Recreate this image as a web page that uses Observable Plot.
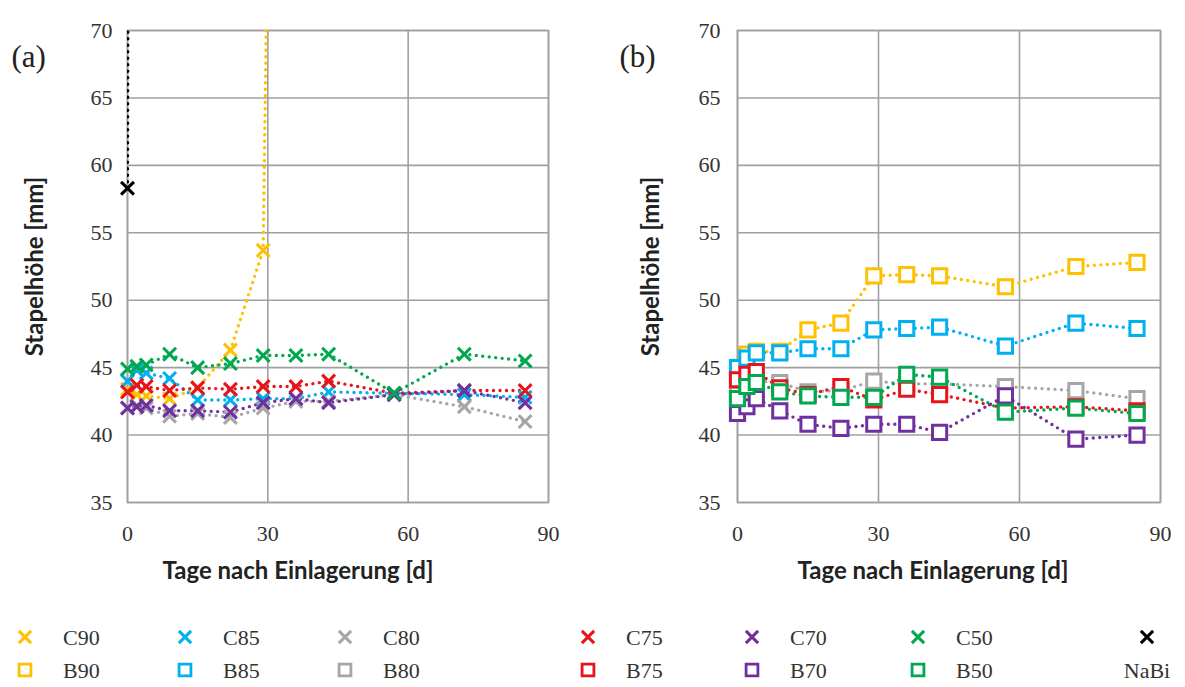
<!DOCTYPE html>
<html><head><meta charset="utf-8">
<script src="https://cdn.jsdelivr.net/npm/d3@7"></script>
<script src="https://cdn.jsdelivr.net/npm/@observablehq/plot@0.6"></script>
<style>
body{margin:0;background:#fff;}
#wrap{position:relative;width:1185px;height:687px;overflow:hidden;background:#fff;}
.panel{position:absolute;top:0;}
#legend{position:absolute;left:0;top:617px;}
</style></head><body><div id="wrap"></div>
<script>
// ---- data ----
const days = [0, 2, 4, 9, 15, 22, 29, 36, 43, 57, 72, 85];
const xTicks = [0, 30, 60, 90];
const yTicks = [35, 40, 45, 50, 55, 60, 65, 70];

// panel (a): C series
const C90 = [43.4, 43.0, 42.9, 42.7, 43.5, 46.3, 53.7, 230];
const C85 = [44.0, 44.8, 44.6, 44.2, 42.6, 42.6, 42.7, 42.7, 43.2, 43.1, 43.0, 42.8];
const C80 = [42.0, 42.2, 42.0, 41.4, 41.6, 41.3, 42.0, 42.5, 42.5, 43.0, 42.1, 41.0];
const C75 = [43.2, 43.7, 43.6, 43.3, 43.5, 43.4, 43.6, 43.6, 44.0, 43.1, 43.3, 43.3];
const C70 = [42.0, 42.1, 42.2, 41.8, 41.8, 41.7, 42.4, 42.7, 42.4, 43.0, 43.3, 42.4];
const C50 = [44.9, 45.1, 45.2, 46.0, 45.0, 45.3, 45.9, 45.9, 46.0, 43.1, 46.0, 45.5];
const NaBiDays = [0, 2];
const NaBi = [58.3, 400];

// panel (b): B series
const B90 = [44.8, 46.0, 46.2, 46.2, 47.8, 48.3, 51.8, 51.9, 51.8, 51.0, 52.5, 52.8];
const B85 = [45.0, 45.7, 46.1, 46.1, 46.4, 46.4, 47.8, 47.9, 48.0, 46.6, 48.3, 47.9];
const B80 = [43.0, 43.5, 44.0, 43.9, 43.2, 43.3, 44.0, 43.8, 43.8, 43.6, 43.3, 42.7];
const B75 = [44.1, 44.5, 44.7, 43.5, 43.0, 43.6, 42.6, 43.4, 43.0, 42.0, 42.1, 41.8];
const B70 = [41.6, 42.1, 42.7, 41.8, 40.8, 40.5, 40.8, 40.8, 40.2, 42.9, 39.7, 40.0];
const B50 = [42.7, 43.6, 43.9, 43.2, 42.9, 42.8, 42.8, 44.5, 44.3, 41.7, 42.0, 41.6];

const colors = {"90": "#FFC000", "85": "#00B0F0", "80": "#A6A6A6", "75": "#E8141C", "70": "#7030A0", "50": "#00A850", "NaBi": "#000000"};
const legendC = ["C90", "C85", "C80", "C75", "C70", "C50", "NaBi"];
const legendB = ["B90", "B85", "B80", "B75", "B70", "B50"];

const seriesA = [
  {name: "C90", key: "90", days, values: C90},
  {name: "C85", key: "85", days, values: C85},
  {name: "C80", key: "80", days, values: C80},
  {name: "C75", key: "75", days, values: C75},
  {name: "C70", key: "70", days, values: C70},
  {name: "C50", key: "50", days, values: C50},
  {name: "NaBi", key: "NaBi", days: NaBiDays, values: NaBi}
];
const seriesB = [
  {name: "B90", key: "90", days, values: B90},
  {name: "B85", key: "85", days, values: B85},
  {name: "B80", key: "80", days, values: B80},
  {name: "B75", key: "75", days, values: B75},
  {name: "B70", key: "70", days, values: B70},
  {name: "B50", key: "50", days, values: B50}
];

const gridColor = "#a0a0a0";
const tickFont = "Liberation Serif, serif";
const titleFont = "Lato, 'Open Sans', sans-serif";

function panel(series, sym, r, W, mL, mR, tag, yPad, yTitleDx, xTitleDx, tagDx) {
  const rows = [];
  for (const s of series) s.values.forEach((v, i) => rows.push({series: s.name, day: s.days[i], value: v, color: colors[s.key]}));
  const dataMarks = [];
  for (const s of series) {
    const sr = rows.filter(d => d.series === s.name);
    dataMarks.push(Plot.line(sr, {x: "day", y: "value", stroke: "color", strokeWidth: 3.4, strokeDasharray: "0 6.5", strokeLinecap: "round", clip: true}));
  }
  for (const s of series) {
    const sr = rows.filter(d => d.series === s.name && d.value <= 70);
    dataMarks.push(Plot.dot(sr, {x: "day", y: "value", stroke: "color", symbol: sym, r, strokeWidth: sym === "times" ? 3.1 : 3, fill: sym === "times" ? "none" : "white"}));
  }
  return Plot.plot({
    width: W, height: 600, marginLeft: mL, marginRight: mR, marginTop: 30, marginBottom: 98,
    x: {domain: [0, 90]},
    y: {domain: [35, 70]},
    color: {type: "identity"},
    style: {fontFamily: tickFont, fontSize: "22px", color: "#333", background: "white"},
    marks: [
      Plot.gridY(yTicks, {stroke: gridColor, strokeOpacity: 1, strokeWidth: 1.6}),
      Plot.gridX(xTicks, {stroke: gridColor, strokeOpacity: 1, strokeWidth: 1.6}),
      Plot.frame({stroke: gridColor, strokeWidth: 1.6}),
      Plot.axisY(yTicks, {tickSize: 0, tickPadding: yPad, label: null, fontSize: 22}),
      Plot.axisX(xTicks, {tickSize: 0, tickPadding: 23, label: null, fontSize: 22}),
      ...dataMarks,
      Plot.text(["Stapelhöhe [mm]"], {frameAnchor: "left", textAnchor: "middle", dx: yTitleDx, rotate: -90, fontWeight: "bold", fontFamily: titleFont, fontSize: 24, fill: "#222", text: d => d}),
      Plot.text(["Tage nach Einlagerung [d]"], {frameAnchor: "bottom", textAnchor: "middle", dx: xTitleDx, dy: 76, fontWeight: "bold", fontFamily: titleFont, fontSize: 24, fill: "#222", text: d => d}),
      Plot.text([tag], {frameAnchor: "top-left", textAnchor: "start", dx: tagDx, dy: 14, fontFamily: tickFont, fontSize: 31, fill: "#222", text: d => d})
    ]
  });
}

const wrap = document.getElementById("wrap");
const pa = panel(seriesA, "times", 5.9, 590, 127, 42, "(a)", 15, -92, -40, -116);
pa.classList.add("panel"); pa.style.left = "0px";
wrap.appendChild(pa);
const pb = panel(seriesB, "square", 8, 585, 137, 25, "(b)", 17, -86, -16, -118);
pb.classList.add("panel"); pb.style.left = "600px";
wrap.appendChild(pb);

// legend
const colX = [25, 185, 345, 588, 752, 918, 1147];
const lg = d3.select(wrap).append("svg").attr("id", "legend").attr("width", 1185).attr("height", 70);
const timesPath = d3.symbol(d3.symbolTimes, 100)();
const squarePath = d3.symbol(d3.symbolSquare, 140)();
legendC.forEach((n, i) => {
  const key = n === "NaBi" ? "NaBi" : n.slice(1);
  lg.append("path").attr("d", timesPath).attr("transform", `translate(${colX[i]},20)`)
    .attr("fill", "none").attr("stroke", colors[key]).attr("stroke-width", 3);
  if (n !== "NaBi") {
    lg.append("text").attr("x", colX[i] + 38).attr("y", 28).text(n)
      .attr("font-family", tickFont).attr("font-size", 22).attr("fill", "#333");
  } else {
    lg.append("text").attr("x", colX[i]).attr("y", 61).attr("text-anchor", "middle").text(n)
      .attr("font-family", tickFont).attr("font-size", 22).attr("fill", "#333");
  }
});
legendB.forEach((n, i) => {
  const key = n.slice(1);
  lg.append("path").attr("d", squarePath).attr("transform", `translate(${colX[i]},53)`)
    .attr("fill", "white").attr("stroke", colors[key]).attr("stroke-width", 2.8);
  lg.append("text").attr("x", colX[i] + 38).attr("y", 61).text(n)
    .attr("font-family", tickFont).attr("font-size", 22).attr("fill", "#333");
});
</script></body></html>
